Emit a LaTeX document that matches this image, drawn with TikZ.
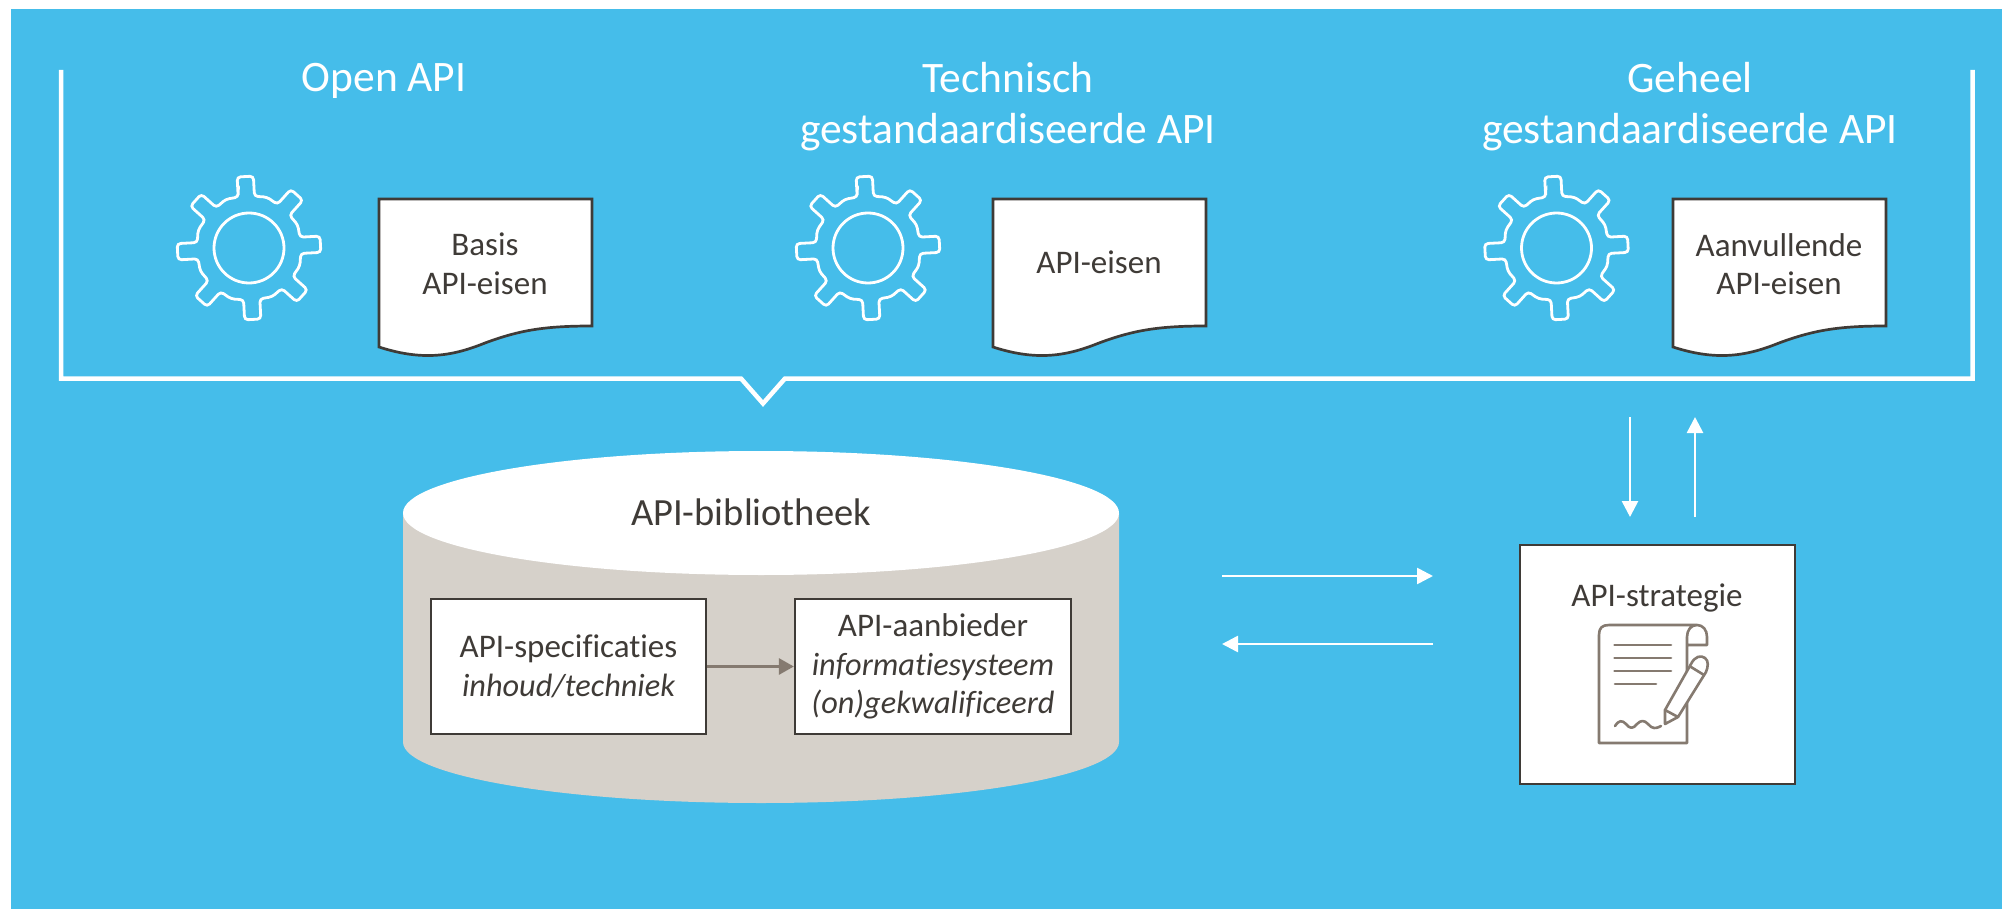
\documentclass[tikz,border=0pt]{standalone}
\usepackage{fontspec}
\setmainfont[Ligatures=NoCommon]{Carlito}
\usetikzlibrary{arrows.meta}
\definecolor{bgblue}{HTML}{45BDEA}
\definecolor{inkdark}{HTML}{3F3B37}
\definecolor{taupe}{HTML}{857A70}
\definecolor{stone}{HTML}{D6D1CA}
\newcommand{\itext}[1]{{\fontsize{32.3}{38.5}\selectfont\itshape #1}}
\tikzset{
  x=1pt,y=-1pt,
  titletext/.style={text=white,align=center,inner sep=0pt,font=\fontsize{43.5}{51}\selectfont},
  bodytext/.style={text=inkdark,align=center,inner sep=0pt,font=\fontsize{33}{38.5}\selectfont},
  boxed/.style={draw=inkdark,fill=white,line width=2.3pt,inner sep=0pt,minimum height=135pt},
  whitearrow/.style={draw=white,line width=2.6pt,-{Triangle[length=16pt,width=16pt]}},
  taupearrow/.style={draw=taupe,line width=3pt,-{Triangle[length=15pt,width=16pt]}},
  gearline/.style={draw=white,line width=2.8pt,rounded corners=3.5pt},
  iconline/.style={draw=taupe,line width=2.6pt,line cap=round,line join=round},
  pics/gearicon/.style={code={
    \draw[gearline] (-102:52)
      \foreach \i in {0,...,7}{
        -- ({-102+45*\i}:52) -- ({-99.5+45*\i}:72) -- ({-86.5+45*\i}:72) -- ({-84+45*\i}:52)
        -- ({-70.5+45*\i}:54)
      } -- cycle;
    \draw[draw=white,line width=2.8pt] (0,0) circle[radius=35];
  }},
  pics/docicon/.style={code={
    \draw[draw=inkdark,fill=white,line width=2.7pt,line join=miter]
      (0,0) -- (213,0) -- (213,127) .. controls (166,127) and (141,131) .. (106,144)
      .. controls (76,156) and (46,163) .. (0,148) -- cycle;
  }}
}
\begin{document}
\begin{tikzpicture}
\useasboundingbox (0,0) rectangle (2002,909);
\fill[bgblue] (11,9) rectangle (2002,909);

% bracket
\draw[draw=white,line width=4.5pt,line join=miter]
  (61,70) -- (61,378.5) -- (741,378.5) -- (763,403.5) -- (785,378.5) -- (1972.5,378.5) -- (1972.5,70);

% titles
\node[titletext] (t1) at (384,80.5) {Open API};
\node[titletext] (t2) at (1008,106.5) {Technisch\\gestandaardiseerde API};
\node[titletext] (t3) at (1690,106.5) {Geheel\\gestandaardiseerde API};

% gears and documents
\pic at (249,248) {gearicon};
\pic at (868,248) {gearicon};
\pic at (1556.5,248) {gearicon};
\pic at (379,199) {docicon};
\pic at (993,199) {docicon};
\pic at (1673,199) {docicon};
\node[bodytext] (d1) at (485,264) {Basis\\API-eisen};
\node[bodytext] (d2) at (1099,262) {API-eisen};
\node[bodytext] (d3) at (1779,264) {Aanvullende\\API-eisen};

% cylinder
\fill[stone] (403,513) -- (403,742) arc[x radius=358,y radius=61,start angle=180,end angle=0]
  -- (1119,513) -- cycle;
\fill[white] (761,513) ellipse[x radius=358,y radius=62];
\node[text=inkdark,inner sep=0pt,font=\fontsize{38.5}{44}\selectfont] (lib) at (751,512) {API-bibliotheek};

\node[boxed,bodytext,minimum width=275pt] (spec) at (568.5,666.5) {API-specificaties\\\itext{inhoud/techniek}};
\node[boxed,bodytext,minimum width=276pt] (prov) at (933,666.5) {API-aanbieder\\\itext{informatiesysteem}\\\itext{(on)gekwalificeerd}};
\draw[taupearrow] (spec.east) -- (prov.west);

% strategy box
\node[draw=inkdark,fill=white,line width=2.3pt,minimum width=275pt,minimum height=239pt,inner sep=0pt] (strat) at (1657.5,664.5) {};
\node[bodytext,anchor=base] (stratlabel) at (1657,606) {API-strategie};

\draw[iconline] (1687,645) -- (1687,743) -- (1599,743) -- (1599,635)
  .. controls (1599,628) and (1602,625) .. (1609,625) -- (1697,625)
  .. controls (1703,625) and (1707,630) .. (1707,637) -- (1707,645) -- (1687,645)
  -- (1687,637) .. controls (1687,630) and (1691,625) .. (1697,625);
\draw[iconline] (1614.5,645) -- (1671,645) (1614.5,658) -- (1671,658)
  (1614.5,671) -- (1671,671) (1615,684) -- (1656,684);
\draw[iconline] (1615,726) .. controls (1619,720) and (1622,720) .. (1626,724)
  .. controls (1630,729) and (1633,729) .. (1637,724)
  .. controls (1641,720) and (1644,720) .. (1648,724)
  .. controls (1652,729) and (1656,729) .. (1661,726);
\draw[iconline,fill=white] (1665,724) -- (1665,710) -- (1691,664)
  .. controls (1695,656) and (1701,655) .. (1705,658)
  .. controls (1709,661) and (1708,667) .. (1706,672) -- (1678,717) -- cycle;
\draw[iconline] (1665,710) -- (1678,717) (1691,667) -- (1704,675);

% connectors
\coordinate (libright) at (1222,576);
\coordinate (stratleftup) at (1433,576);
\coordinate (stratleftlow) at (1433,644);
\coordinate (librightlow) at (1222,644);
\coordinate (brdown) at (1630,417);
\coordinate (stdown) at (1630,517);
\coordinate (stup) at (1695,517);
\coordinate (brup) at (1695,417);
\draw[whitearrow] (libright) -- (stratleftup);
\draw[whitearrow] (stratleftlow) -- (librightlow);
\draw[whitearrow] (brdown) -- (stdown);
\draw[whitearrow] (stup) -- (brup);
\end{tikzpicture}
\end{document}
